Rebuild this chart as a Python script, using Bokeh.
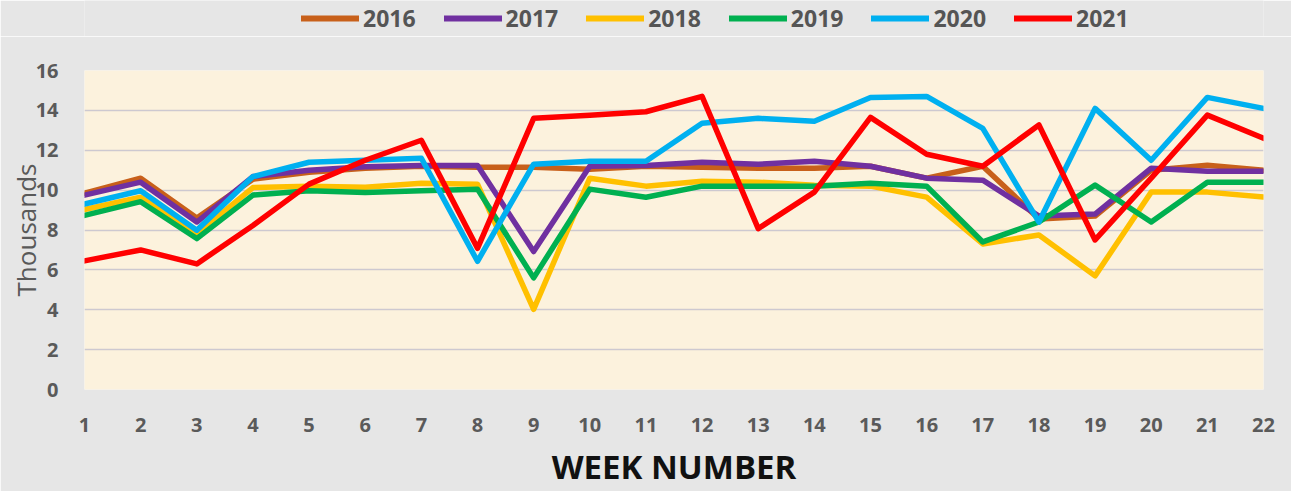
from bokeh.plotting import figure
from bokeh.layouts import column
from bokeh.models import Range1d, FixedTicker, Legend, LegendItem
from bokeh.embed import file_html
from bokeh.resources import INLINE

weeks = list(range(1, 23))
y2016 = [9.85, 10.6, 8.6, 10.55, 10.9, 11.1, 11.2, 11.15, 11.15, 11.05, 11.2, 11.15, 11.1, 11.1, 11.2, 10.6, 11.2, 8.55, 8.7, 11.0, 11.25, 11.0]
y2017 = [9.75, 10.4, 8.4, 10.68, 11.0, 11.17, 11.24, 11.24, 6.92, 11.2, 11.24, 11.4, 11.3, 11.45, 11.2, 10.6, 10.5, 8.7, 8.8, 11.1, 10.95, 10.95]
y2018 = [9.03, 9.64, 7.8, 10.13, 10.2, 10.15, 10.35, 10.3, 4.02, 10.6, 10.2, 10.45, 10.4, 10.25, 10.2, 9.65, 7.3, 7.75, 5.7, 9.9, 9.9, 9.65]
y2019 = [8.73, 9.42, 7.57, 9.75, 9.97, 9.88, 9.97, 10.05, 5.6, 10.05, 9.64, 10.2, 10.2, 10.2, 10.35, 10.2, 7.4, 8.4, 10.25, 8.4, 10.4, 10.4]
y2020 = [9.3, 9.97, 7.99, 10.68, 11.4, 11.5, 11.6, 6.43, 11.3, 11.45, 11.45, 13.35, 13.6, 13.45, 14.65, 14.7, 13.1, 8.4, 14.1, 11.5, 14.65, 14.1]
y2021 = [6.45, 7.0, 6.3, 8.23, 10.3, 11.5, 12.5, 7.08, 13.6, 13.76, 13.93, 14.7, 8.07, 9.9, 13.65, 11.8, 11.2, 13.27, 7.5, 10.6, 13.76, 12.6]

series_names = ["2016", "2017", "2018", "2019", "2020", "2021"]
series_values = [y2016, y2017, y2018, y2019, y2020, y2021]
colors = ["#C8601A", "#7030A0", "#FFC000", "#00B050", "#00B0F0", "#FF0000"]
y_ticks = [0, 2, 4, 6, 8, 10, 12, 14, 16]

BG = "#E6E6E6"

# --- legend strip (separate figure so the legend is not clipped by the plot frame)
pl = figure(width=1291, height=36, output_backend="svg", toolbar_location=None,
            x_range=Range1d(100, 101), y_range=Range1d(100, 101),
            min_border_left=0, min_border_right=0, min_border_top=0, min_border_bottom=0)
pl.axis.visible = False
pl.grid.visible = False
pl.outline_line_color = None
pl.background_fill_color = BG
pl.border_fill_color = BG

items = []
for name, vals, col in zip(series_names, series_values, colors):
    # same series, out of this strip's view: only its legend swatch shows
    r = pl.line(weeks, vals, line_color=col, line_width=6, line_cap="round")
    items.append(LegendItem(label=name, renderers=[r]))

legend = Legend(items=items, orientation="horizontal", location=(217, 2),
                background_fill_alpha=0, border_line_color=None,
                padding=0, margin=0, spacing=28, label_standoff=4,
                glyph_width=58, glyph_height=28,
                label_text_font="Open Sans", label_text_font_style="bold",
                label_text_font_size="23px", label_text_color="#555555")
pl.add_layout(legend, "center")

# --- main chart
p = figure(width=1291, height=455, output_backend="svg", toolbar_location=None,
           x_range=Range1d(1, 22), y_range=Range1d(0, 16),
           min_border_left=84, min_border_right=28, min_border_top=34, min_border_bottom=98)

p.background_fill_color = "#FCF2DD"
p.border_fill_color = BG
p.outline_line_color = None

for name, vals, col in zip(series_names, series_values, colors):
    p.line(weeks, vals, line_color=col, line_width=5.5, line_join="round", line_cap="round")

p.xaxis.ticker = FixedTicker(ticks=weeks)
p.yaxis.ticker = FixedTicker(ticks=y_ticks)
p.xgrid.grid_line_color = None
p.ygrid.grid_line_color = "#CDC9D0"
p.ygrid.grid_line_width = 1.5

for ax in (p.xaxis, p.yaxis):
    ax.axis_line_color = None
    ax.major_tick_line_color = None
    ax.minor_tick_line_color = None
    ax.major_label_text_font = "Open Sans"
    ax.major_label_text_font_style = "bold"
    ax.major_label_text_font_size = "20px"
    ax.major_label_text_color = "#5A5A5A"

p.xaxis.major_label_standoff = 22
p.yaxis.major_label_standoff = 20

p.xaxis.axis_label = "WEEK NUMBER"
p.xaxis.axis_label_text_font = "Open Sans"
p.xaxis.axis_label_text_font_style = "bold"
p.xaxis.axis_label_text_font_size = "33px"
p.xaxis.axis_label_text_color = "#111111"
p.xaxis.axis_label_standoff = 9

p.yaxis.axis_label = "Thousands"
p.yaxis.axis_label_text_font = "Open Sans"
p.yaxis.axis_label_text_font_style = "normal"
p.yaxis.axis_label_text_font_size = "26px"
p.yaxis.axis_label_text_color = "#595959"
p.yaxis.axis_label_standoff = -11

layout = column(pl, p, spacing=0)
open("out.html", "w").write(file_html(layout, INLINE))
